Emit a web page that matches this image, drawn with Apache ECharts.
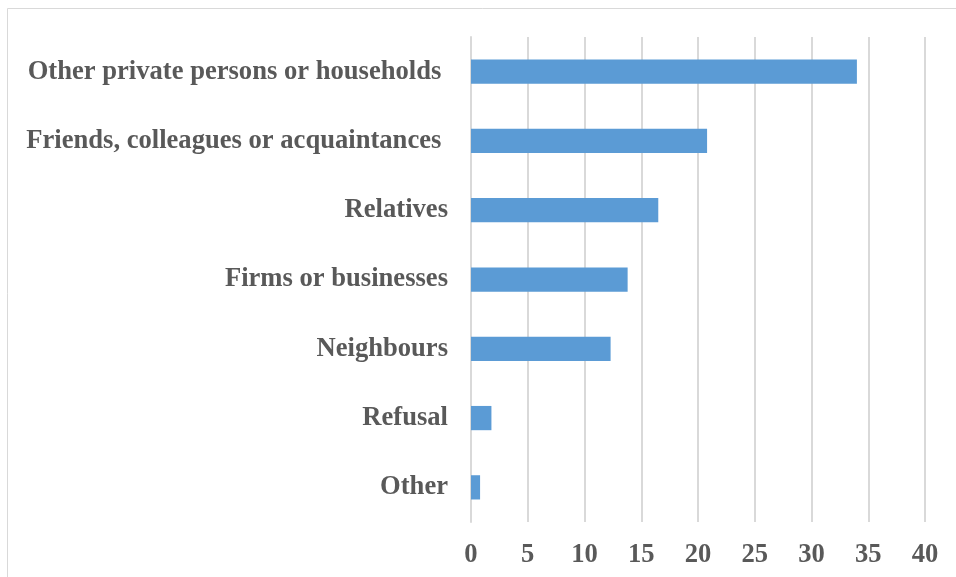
<!DOCTYPE html>
<html>
<head>
<meta charset="utf-8">
<script src="https://cdn.jsdelivr.net/npm/echarts@6/dist/echarts.min.js"></script>
<style>
  html, body { margin: 0; padding: 0; background: #ffffff; }
  #chart { width: 956px; height: 577px; }
</style>
</head>
<body>
<div id="chart"></div>
<script>
// Categories listed bottom-to-top (category axis on y runs upward)
const categories = [
  'Other',
  'Refusal',
  'Neighbours',
  'Firms or businesses',
  'Relatives',
  'Friends, colleagues or acquaintances ',
  'Other private persons or households '
];
const shares = [0.8, 1.8, 12.3, 13.8, 16.5, 20.8, 34.0];
const xTicks = [0, 5, 10, 15, 20, 25, 30, 35, 40];

const labelFont = {
  fontFamily: '"Liberation Serif", "Times New Roman", serif',
  fontWeight: 'bold',
  fontSize: 26.6,
  color: '#595959'
};

const chart = echarts.init(document.getElementById('chart'), null, { renderer: 'canvas' });
chart.setOption({
  animation: false,
  backgroundColor: '#ffffff',
  graphic: [{
    type: 'rect',
    shape: { x: 7.5, y: 8.5, width: 1000, height: 1000 },
    style: { fill: 'none', stroke: '#d9d9d9', lineWidth: 1 },
    silent: true
  }],
  grid: { left: 471, right: 31, top: 37, bottom: 55, containLabel: false },
  xAxis: {
    type: 'value',
    min: xTicks[0],
    max: xTicks[xTicks.length - 1],
    interval: xTicks[1] - xTicks[0],
    axisLine: { show: false },
    axisTick: { show: false },
    splitLine: { show: true, lineStyle: { color: '#d9d9d9', width: 2 } },
    axisLabel: Object.assign({ margin: 20 }, labelFont)
  },
  yAxis: {
    type: 'category',
    data: categories,
    axisLine: { show: true, lineStyle: { color: '#d9d9d9', width: 2 } },
    axisTick: { show: false },
    axisLabel: Object.assign({ margin: 23, padding: [4, 0, 0, 0] }, labelFont)
  },
  series: [{
    type: 'bar',
    data: shares,
    barWidth: '35%',
    itemStyle: { color: '#5b9bd5' }
  }]
});
</script>
</body>
</html>
